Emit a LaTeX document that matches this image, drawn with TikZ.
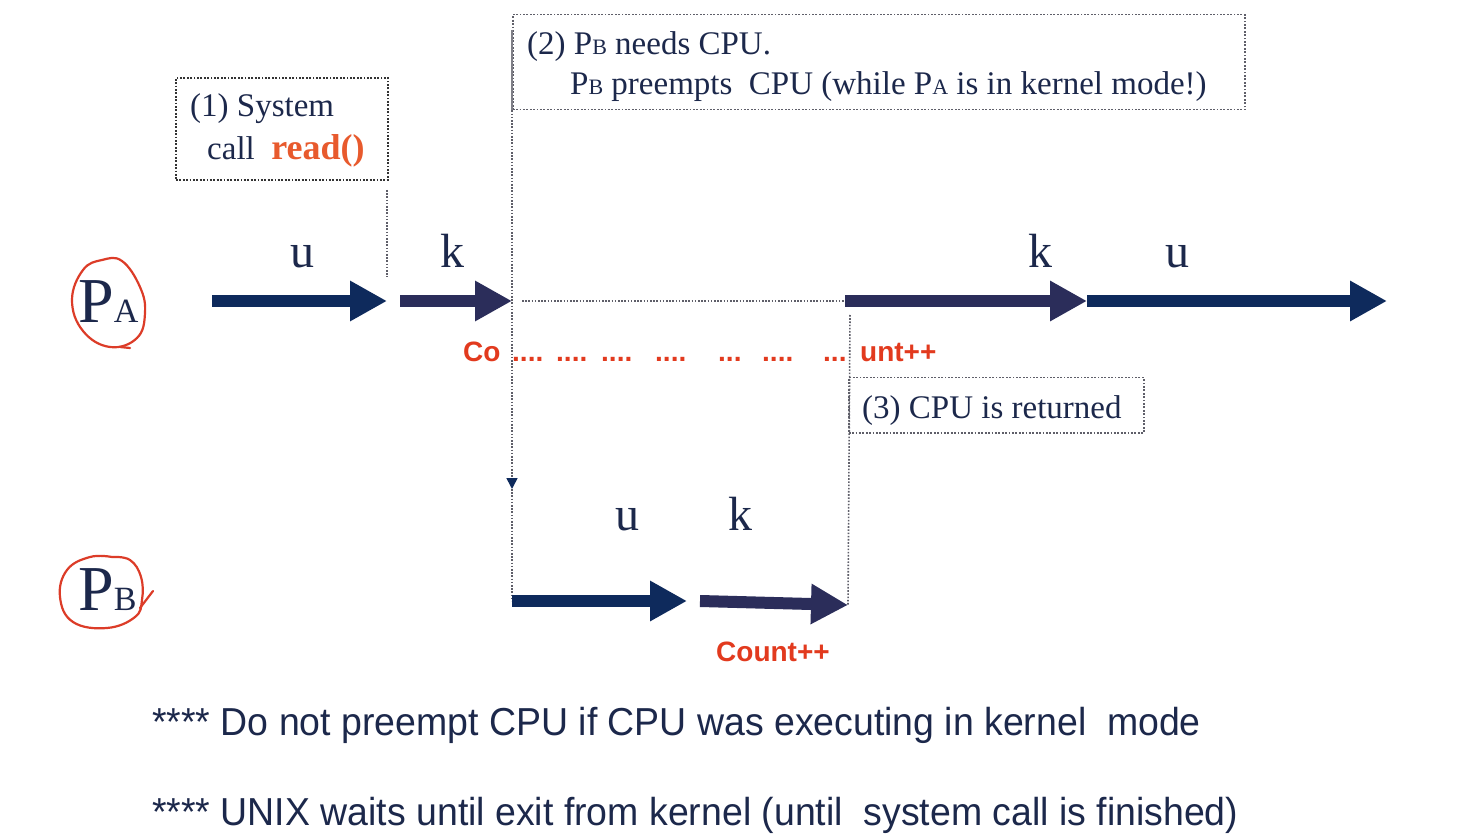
\documentclass[tikz,border=0pt]{standalone}
\usepackage{fontspec}
\setmainfont{Liberation Serif}
\newfontfamily\arial{Liberation Sans}
\newfontfamily\arialn[FakeStretch=0.96]{Liberation Sans}
\usetikzlibrary{arrows.meta}
\definecolor{navy}{RGB}{14,42,92}
\definecolor{knavy}{RGB}{43,45,90}
\definecolor{txt}{RGB}{28,40,75}
\definecolor{redt}{RGB}{226,58,30}
\definecolor{orng}{RGB}{232,90,45}
\definecolor{dotg}{RGB}{95,95,105}
\definecolor{circ}{RGB}{220,60,40}
\begin{document}
\begin{tikzpicture}[x=1pt,y=-1pt,
  seg/.style={line width=12pt,-{Triangle[length=37pt,width=38pt]}},
  dotline/.style={draw=dotg,line width=1.6pt,dash pattern=on 1.6pt off 1.6pt},
  boxdot/.style={draw=black!80,line width=1.8pt,dash pattern=on 1.8pt off 1.6pt,inner sep=0,anchor=north west},
  lab/.style={font=\fontsize{48}{48}\selectfont,text=txt,inner sep=0,anchor=base},
  btxt/.style={font=\fontsize{33}{33}\selectfont,text=txt,inner sep=0,anchor=base west},
  redlab/.style={font=\arial\bfseries\fontsize{28}{28}\selectfont,text=redt,inner sep=0,anchor=base west},
  note/.style={font=\arialn\fontsize{39}{39}\selectfont,text=txt,inner sep=0,anchor=base west},
  pname/.style={font=\fontsize{64}{64}\selectfont,text=txt,inner sep=0,anchor=base west},
  hand/.style={draw=circ,line width=2.2pt,line cap=round}]
\useasboundingbox (0,0) rectangle (1484,834);
\fill[white] (0,0) rectangle (1484,834);

% ---------- boxes ----------
\node[boxdot,minimum width=212pt,minimum height=102pt] (b1) at (175,77) {};
\node[boxdot,draw=dotg,line width=1.5pt,minimum width=732pt,minimum height=95pt] (b2) at (512,14) {};
\node[boxdot,draw=dotg,line width=1.5pt,minimum width=295pt,minimum height=55pt] (b3) at (848,377) {};
\draw[dotg!80,line width=1.2pt] (512,30) -- (b2.south west);

\node[btxt] (t1a) at (190,117) {(1) System};
\node[btxt] (t1b) at (207,160) {call\ \ \textcolor{orng}{\fontsize{36}{36}\selectfont\textbf{read()}}};
\node[btxt] (t2a) at (527,55) {(2) P{\fontsize{22}{22}\selectfont B} needs CPU.};
\node[btxt] (t2b) at (570,95) {P{\fontsize{22}{22}\selectfont B} preempts\ \ CPU (while P{\fontsize{22}{22}\selectfont A} is in kernel mode!)};
\node[btxt] (t3) at (862,418) {(3) CPU is returned};

% ---------- process labels ----------
\node[pname] (pa) at (78,323) {P{\fontsize{34}{34}\selectfont A}};
\node[pname] (pb) at (78,610) {P{\fontsize{34}{34}\selectfont B}};
\draw[hand] plot[smooth cycle,tension=0.7] coordinates {(102,260) (122,261) (140,287) (145,313) (137,338) (110,347) (83,331) (72,300) (83,270)};
\draw[hand] (120,347) -- (130,348);
\draw[hand] plot[smooth,tension=0.7] coordinates {(112,557) (130,560) (141,577) (142,600) (135,617) (107,628) (73,622) (60,597) (67,570) (90,557) (112,557)};
\draw[hand] (140,608) -- (153,591);

% ---------- timeline coordinates ----------
\coordinate (a0) at (212,301);
\coordinate (a1) at (387,301);
\coordinate (a2s) at (400,301);
\coordinate (a2) at (512,301);
\coordinate (a3s) at (845,301);
\coordinate (a3) at (1087,301);
\coordinate (a4) at (1387,301);
\coordinate (b0) at (512,601);
\coordinate (bb1) at (687,601);
\coordinate (b2s) at (700,601);
\coordinate (bb2) at (848,605);

% ---------- dotted guides ----------
\draw[dotline] (387,190) -- (387,277);
\draw[dotline] (522,301) -- (a3s);
\draw[dotline,-{Triangle[length=11pt,width=11pt,color=navy,fill=navy]}] (b2.south west) -- (512,489);
\draw[dotline] (512,489) -- (b0);
\draw[dotline] (850,315) -- (bb2);

% ---------- arrows ----------
\draw[seg,navy] (a0) -- (a1);
\draw[seg,knavy] (a2s) -- (a2);
\draw[seg,knavy] (a3s) -- (a3);
\draw[seg,navy] (a3) -- (a4);
\draw[seg,navy] (b0) -- (bb1);
\draw[seg,knavy] (b2s) -- (bb2);

% ---------- arrow labels ----------
\node[lab] (ua1) at (302,268) {u};
\node[lab] (ka1) at (452,268) {k};
\node[lab] (ka2) at (1040,268) {k};
\node[lab] (ua2) at (1177,268) {u};
\node[lab] (ub1) at (627,530) {u};
\node[lab] (kb1) at (740,530) {k};

% ---------- red counter text ----------
\node[redlab] (co) at (463,362) {Co};
\node[redlab] (unt) at (860,362) {unt++};
\node[redlab] (dots1) at (512,362) {....};
\node[redlab] (dots2) at (556,362) {....};
\node[redlab] (dots3) at (601,362) {....};
\node[redlab] (dots4) at (655,362) {....};
\node[redlab] (dots5) at (718,362) {...};
\node[redlab] (dots6) at (762,362) {....};
\node[redlab] (dots7) at (823,362) {...};
\node[redlab] (cnt) at (716,661) {Count++};

% ---------- notes ----------
\node[note] (n1) at (152,735) {**** Do not preempt CPU if CPU was executing in kernel\ \ mode};
\node[note] (n2) at (152,825) {**** UNIX waits until exit from kernel (until\ \ system call is finished)};
\end{tikzpicture}
\end{document}
